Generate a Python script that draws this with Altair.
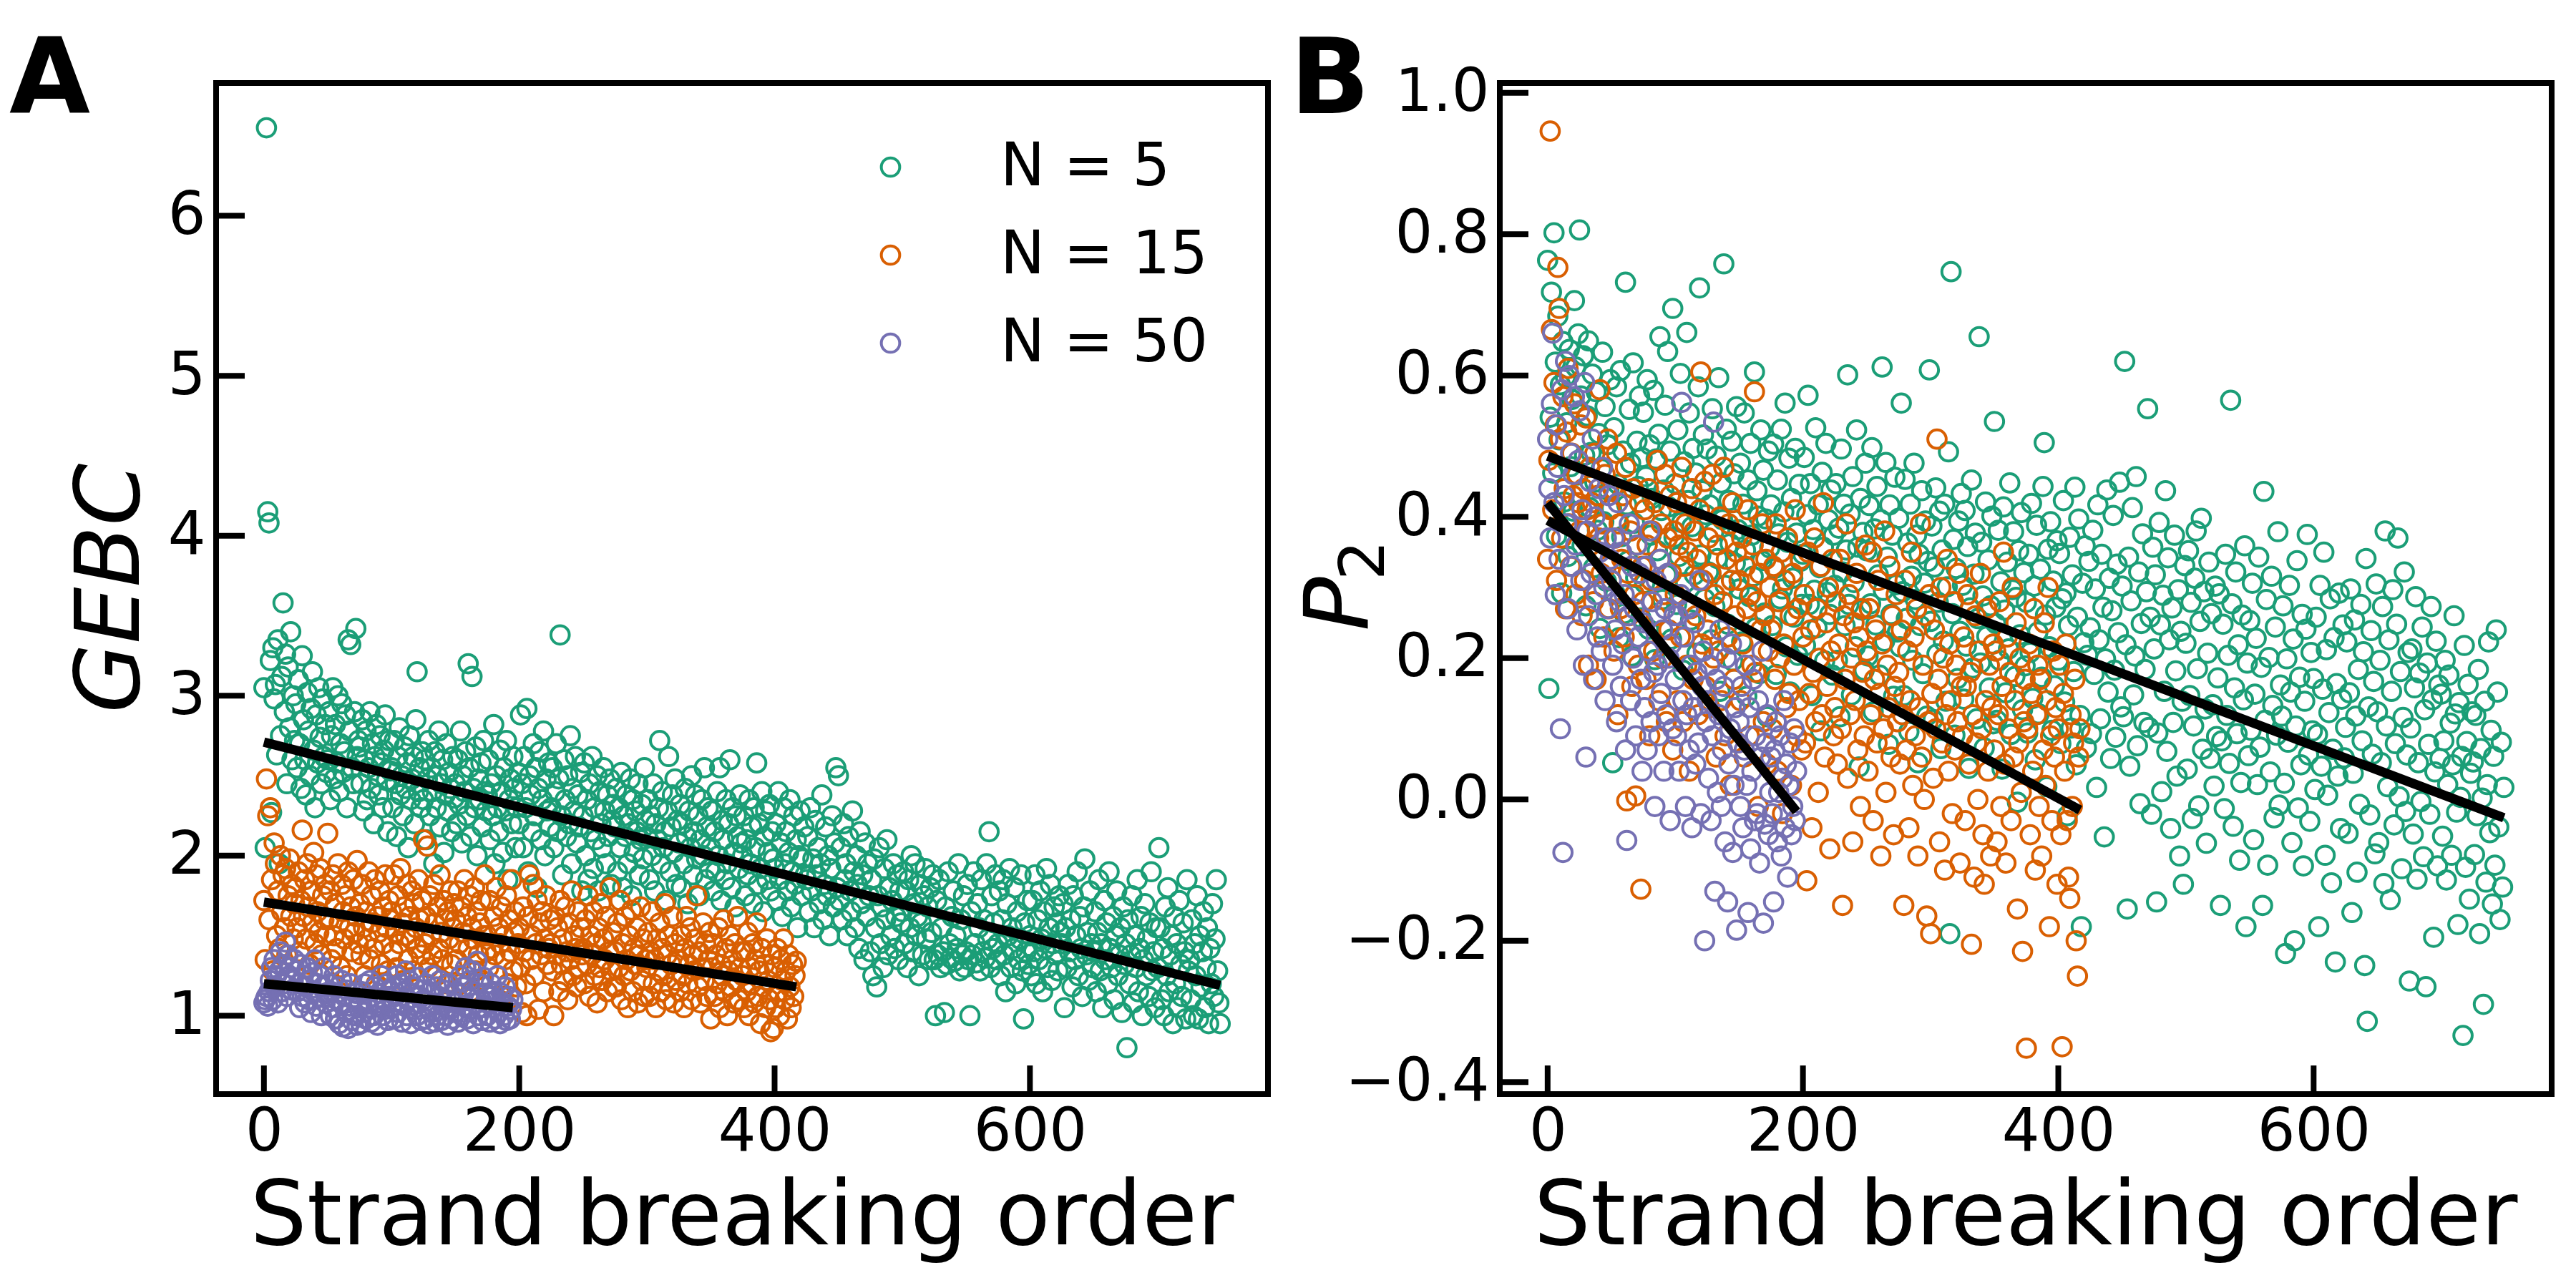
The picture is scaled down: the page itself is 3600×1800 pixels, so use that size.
import altair as alt
import pandas as pd

SERIES = ["N = 5", "N = 15", "N = 50"]
COLORS = ["#1b9e77", "#d95f02", "#7570b3"]

# ---------------- Panel A : GEBC vs strand breaking order ----------------
gebc_n5 = [
    3.05, 2.05, 6.55, 4.15, 4.08, 3.22, 2.27, 3.3, 2.98, 3.07, 2.63, 3.35, 1.95, 2.75, 3.12, 3.58, 2.9, 3.26, 2.45, 3.18, 2.8, 3.4, 2.6, 3.0, 2.72,
    2.95, 2.55, 3.1, 2.7, 2.42, 3.25, 2.85, 2.6, 2.38, 3.02, 2.78, 2.5, 2.92, 3.15, 2.66, 2.3, 2.88, 2.58, 3.05, 2.74, 2.45, 2.98, 2.62, 2.82, 2.52,
    2.6, 2.9, 2.35, 2.75, 3.05, 2.48, 2.82, 2.58, 3.0, 2.4, 2.7, 2.95, 2.52, 2.65, 2.88, 2.3, 3.35, 2.78, 3.32, 2.55, 2.45, 2.9, 3.42, 2.62, 2.72,
    2.68, 2.45, 2.85, 2.28, 2.6, 2.78, 2.35, 2.55, 2.9, 2.42, 2.7, 2.2, 2.62, 2.82, 2.5, 2.38, 2.75, 2.58, 2.3, 2.66, 2.88, 2.47, 2.15, 2.72, 2.53,
    2.55, 2.3, 2.72, 2.45, 2.12, 2.62, 2.8, 2.38, 2.5, 2.25, 2.68, 2.42, 2.58, 2.05, 2.75, 2.35, 2.48, 2.62, 2.2, 2.85, 3.15, 2.4, 2.55, 2.3, 2.65,
    2.35, 2.6, 2.1, 2.48, 2.72, 2.25, 2.55, 2.4, 1.95, 2.65, 2.3, 2.5, 2.78, 2.18, 2.45, 2.6, 2.02, 2.38, 2.7, 2.28, 2.52, 2.42, 2.15, 2.62, 2.36,
    2.45, 2.2, 2.6, 2.32, 2.78, 2.08, 2.5, 2.4, 2.65, 2.25, 3.2, 2.55, 2.12, 3.12, 2.42, 2.3, 2.68, 2.0, 2.48, 2.35, 2.58, 2.18, 2.72, 2.4, 2.28,
    2.38, 2.6, 2.1, 2.45, 2.25, 2.82, 1.95, 2.5, 2.3, 2.15, 2.66, 2.4, 2.02, 2.55, 2.28, 2.72, 1.85, 2.35, 2.48, 2.2, 2.62, 2.42, 2.05, 2.3, 2.52,
    2.2, 2.88, 2.45, 2.05, 2.62, 2.3, 2.92, 1.9, 2.5, 2.38, 2.15, 2.7, 2.25, 2.55, 1.8, 2.42, 2.65, 2.1, 2.35, 2.78, 2.0, 2.48, 2.28, 2.58, 2.18,
    2.3, 2.55, 2.05, 2.4, 2.7, 2.15, 2.48, 3.38, 2.25, 1.88, 2.6, 2.35, 2.12, 2.5, 2.2, 2.75, 1.95, 2.42, 2.28, 2.62, 2.08, 2.38, 2.18, 2.52, 1.78,
    2.25, 2.58, 2.0, 2.35, 1.85, 2.45, 2.15, 2.62, 1.92, 2.3, 2.1, 2.5, 1.78, 2.4, 2.2, 2.05, 2.55, 2.28, 1.95, 2.38, 2.12, 2.48, 1.82, 2.22, 2.32,
    2.18, 2.42, 1.9, 2.3, 2.05, 2.52, 1.8, 2.25, 2.12, 2.38, 1.95, 2.2, 2.48, 1.75, 2.35, 2.02, 2.28, 2.15, 2.45, 1.88, 2.1, 2.32, 1.98, 2.55, 2.22,
    2.12, 2.35, 1.85, 2.25, 2.0, 2.45, 1.78, 2.2, 2.1, 2.3, 2.72, 1.95, 2.4, 2.05, 2.15, 1.72, 2.28, 2.62, 1.9, 2.18, 2.38, 2.02, 2.48, 1.82, 2.22,
    2.08, 2.32, 1.8, 2.2, 1.95, 2.42, 2.12, 1.7, 2.28, 2.05, 2.5, 1.88, 2.15, 2.38, 1.98, 2.25, 1.75, 2.1, 2.35, 2.0, 2.55, 1.85, 2.18, 2.3, 1.92,
    2.05, 2.28, 1.78, 2.15, 1.9, 2.4, 2.0, 2.55, 1.72, 2.22, 2.1, 1.85, 2.35, 1.95, 2.2, 2.6, 1.8, 2.3, 2.02, 1.68, 2.25, 2.12, 1.92, 2.38, 2.08,
    2.0, 2.25, 1.75, 2.1, 1.88, 2.35, 1.95, 2.18, 1.7, 2.3, 2.05, 2.58, 1.82, 2.2, 1.92, 2.4, 1.65, 2.12, 2.28, 1.85, 2.02, 2.32, 1.78, 2.15, 1.98,
    1.92, 2.2, 1.72, 2.4, 1.85, 2.08, 1.62, 2.3, 1.95, 2.15, 1.78, 2.02, 2.35, 1.68, 1.9, 2.25, 1.82, 2.1, 1.55, 2.0, 2.28, 1.75, 1.98, 2.18, 1.88,
    1.85, 2.12, 1.65, 2.3, 1.78, 1.98, 1.55, 2.22, 1.88, 2.05, 1.7, 1.95, 2.38, 1.6, 1.82, 2.18, 1.75, 2.0, 1.5, 1.92, 2.25, 1.68, 2.08, 2.55, 1.8,
    2.5, 1.72, 2.05, 1.6, 2.2, 1.85, 1.95, 1.5, 2.12, 1.78, 1.65, 2.28, 1.9, 1.55, 2.0, 1.82, 1.42, 2.15, 1.7, 1.88, 1.35, 2.08, 1.62, 1.95, 1.75,
    1.4, 1.85, 1.25, 1.98, 1.55, 1.18, 1.75, 2.05, 1.45, 1.68, 1.3, 1.92, 1.6, 2.1, 1.38, 1.8, 1.5, 1.72, 1.95, 1.42, 1.62, 1.88, 1.35, 1.78, 1.58,
    1.65, 1.9, 1.45, 1.78, 1.3, 1.85, 1.55, 2.0, 1.4, 1.7, 1.95, 1.5, 1.62, 1.25, 1.82, 1.58, 1.38, 1.75, 1.92, 1.48, 1.68, 1.35, 1.8, 1.52, 1.88,
    1.35, 1.0, 1.72, 1.38, 1.85, 1.3, 1.55, 1.4, 1.02, 1.68, 1.32, 1.9, 1.45, 1.36, 1.62, 1.78, 1.34, 1.5, 1.42, 1.95, 1.28, 1.6, 1.38, 1.75, 1.3,
    1.4, 1.82, 1.35, 1.0, 1.65, 1.38, 1.9, 1.45, 1.33, 1.7, 1.55, 1.28, 1.85, 1.4, 1.6, 1.36, 1.95, 1.48, 2.15, 1.3, 1.75, 1.42, 1.58, 1.88, 1.35,
    1.45, 1.78, 1.25, 1.6, 1.85, 1.38, 1.15, 1.7, 1.5, 1.92, 1.3, 1.55, 1.42, 1.8, 1.2, 1.65, 1.35, 1.48, 1.88, 1.28, 0.98, 1.58, 1.4, 1.72, 1.32,
    1.5, 1.25, 1.72, 1.4, 1.88, 1.2, 1.6, 1.35, 1.78, 1.48, 1.15, 1.65, 1.42, 1.92, 1.3, 1.55, 1.82, 1.22, 1.45, 1.68, 1.38, 1.58, 1.28, 1.75, 1.52,
    1.45, 1.7, 1.05, 1.55, 1.3, 1.82, 1.4, 1.6, 1.18, 1.75, 1.35, 1.5, 1.9, 1.25, 1.62, 1.42, 1.12, 1.68, 1.98, 1.38, 1.52, 1.22, 1.78, 1.45, 1.3,
    1.4, 1.65, 1.15, 1.52, 1.85, 1.28, 1.45, 1.05, 1.72, 1.35, 1.58, 1.2, 1.9, 1.42, 1.3, 1.62, 1.1, 1.5, 1.78, 1.25, 1.38, 1.55, 1.02, 1.68, 1.32,
    1.45, 0.8, 1.6, 1.2, 1.38, 1.75, 1.08, 1.5, 1.3, 1.85, 1.15, 1.42, 1.62, 1.0, 1.35, 1.7, 1.25, 1.48, 1.12, 1.58, 1.9, 1.28, 1.4, 1.05, 1.55,
    1.3, 2.05, 1.55, 1.1, 1.42, 1.0, 1.68, 1.25, 1.8, 1.15, 1.38, 1.5, 0.95, 1.62, 1.2, 1.45, 1.05, 1.72, 1.32, 1.12, 1.58, 1.4, 0.98, 1.85, 1.28,
    1.35, 1.1, 1.6, 1.0, 1.45, 1.25, 1.75, 0.98, 1.5, 1.18, 1.4, 1.65, 1.05, 1.3, 1.55, 0.95, 1.42, 1.2, 1.7, 1.12, 1.48, 1.85, 1.28, 1.08, 0.95,
]
gebc_n15 = [
    1.72, 1.35, 2.48, 2.25, 1.6, 2.3, 1.85, 1.28, 2.08, 1.95, 1.5, 1.78, 1.42, 2.0, 1.65, 1.88, 1.55, 1.92, 1.38, 1.75, 1.98, 1.62, 1.82, 1.48, 1.7,
    1.8, 1.55, 1.9, 1.4, 1.72, 2.16, 1.62, 1.85, 1.48, 1.95, 1.68, 1.32, 1.78, 1.58, 2.02, 1.45, 1.88, 1.65, 1.52, 1.92, 1.38, 1.75, 1.6, 1.82, 1.5,
    2.14, 1.6, 1.78, 1.35, 1.88, 1.5, 1.7, 1.42, 1.95, 1.58, 1.3, 1.82, 1.65, 1.48, 1.75, 1.25, 1.9, 1.55, 1.68, 1.4, 1.85, 1.52, 1.62, 1.97, 1.45,
    1.7, 1.38, 1.82, 1.55, 1.25, 1.65, 1.48, 1.9, 1.35, 1.75, 1.58, 1.42, 1.85, 1.2, 1.62, 1.52, 1.78, 1.32, 1.68, 1.45, 1.88, 1.55, 1.28, 1.72, 1.6,
    1.65, 1.4, 1.88, 1.52, 1.3, 1.75, 1.45, 1.92, 1.58, 1.22, 1.68, 1.5, 1.82, 1.35, 1.62, 1.48, 1.78, 1.28, 1.7, 1.55, 1.42, 1.85, 1.6, 1.38, 1.72,
    2.1, 1.45, 1.62, 2.06, 1.3, 1.75, 1.5, 1.38, 1.82, 1.58, 1.25, 1.68, 1.42, 1.88, 1.52, 1.35, 1.72, 1.6, 1.2, 1.65, 1.48, 1.78, 1.32, 1.55, 1.7,
    1.6, 1.35, 1.78, 1.45, 1.2, 1.68, 1.52, 1.85, 1.3, 1.62, 1.42, 1.75, 1.15, 1.55, 1.48, 1.8, 1.28, 1.65, 1.38, 1.58, 1.72, 1.22, 1.5, 1.88, 1.4,
    1.5, 1.3, 1.72, 1.42, 1.15, 1.62, 1.38, 1.8, 1.25, 1.55, 1.45, 1.68, 1.12, 1.5, 1.35, 1.75, 1.2, 1.6, 1.4, 1.85, 1.28, 1.52, 1.65, 1.18, 1.45,
    1.55, 1.3, 1.02, 1.68, 1.4, 1.2, 1.0, 1.62, 1.88, 1.35, 1.5, 1.82, 1.25, 1.45, 1.72, 1.04, 1.58, 1.38, 1.65, 1.15, 1.48, 1.75, 1.32, 1.42, 1.6,
    1.45, 1.28, 1.0, 1.62, 1.38, 1.55, 1.15, 1.72, 1.32, 1.48, 1.22, 1.68, 1.4, 1.1, 1.58, 1.35, 1.78, 1.25, 1.5, 1.42, 1.18, 1.65, 1.3, 1.55, 1.38,
    1.42, 1.2, 1.6, 1.32, 1.75, 1.12, 1.5, 1.38, 1.65, 1.25, 1.45, 1.08, 1.55, 1.3, 1.7, 1.22, 1.48, 1.35, 1.62, 1.15, 1.4, 1.8, 1.28, 1.52, 1.18,
    1.4, 1.18, 1.58, 1.3, 1.72, 1.1, 1.45, 1.25, 1.62, 1.35, 1.05, 1.5, 1.28, 1.66, 1.15, 1.42, 1.32, 1.55, 1.08, 1.38, 1.68, 1.22, 1.48, 1.12, 1.35,
    1.3, 1.52, 1.12, 1.4, 1.65, 1.2, 1.35, 1.05, 1.48, 1.28, 1.58, 1.15, 1.42, 1.25, 1.7, 1.1, 1.38, 1.5, 1.18, 1.32, 1.62, 1.08, 1.45, 1.22, 1.35,
    1.35, 1.15, 1.5, 1.25, 1.05, 1.42, 1.62, 1.2, 1.32, 1.55, 1.1, 1.38, 1.28, 1.48, 1.75, 1.18, 1.4, 1.08, 1.3, 1.58, 1.22, 1.45, 1.12, 1.35, 1.52,
    0.98, 1.3, 1.45, 1.12, 1.38, 1.2, 1.55, 1.05, 1.32, 1.25, 1.6, 1.15, 1.42, 1.0, 1.28, 1.5, 1.18, 1.35, 1.08, 1.45, 1.22, 1.62, 1.1, 1.3, 1.4,
    1.25, 1.05, 1.4, 1.15, 1.52, 1.0, 1.3, 1.2, 1.45, 1.08, 1.35, 1.58, 1.12, 1.28, 0.95, 1.42, 1.18, 1.32, 1.05, 1.48, 1.22, 1.1, 0.9, 1.38, 0.92,
    1.3, 1.05, 1.42, 1.15, 1.0, 1.35, 1.22, 1.48, 1.1, 1.28, 0.98, 1.38, 1.18, 1.05, 1.32, 1.12, 1.25, 1.34,
]
gebc_n50 = [
    1.08, 1.1, 1.12, 1.06, 1.15, 1.22, 1.3, 1.1, 1.35, 1.18, 1.25, 1.08, 1.28, 1.4, 1.15, 1.32, 1.2, 1.46, 1.12, 1.38, 1.25, 1.3, 1.16, 1.22, 1.35,
    1.28, 1.15, 1.2, 1.05, 1.32, 1.12, 1.25, 1.08, 1.18, 1.3, 1.1, 1.22, 1.02, 1.27, 1.15, 1.35, 1.06, 1.2, 1.12, 1.25, 1.0, 1.18, 1.3, 1.08, 1.14,
    1.12, 1.2, 1.0, 1.15, 1.05, 1.25, 0.98, 1.1, 1.18, 0.95, 1.08, 1.22, 0.93, 1.12, 1.02, 1.16, 0.92, 1.06, 1.2, 0.97, 1.1, 1.0, 1.14, 0.94, 1.05,
    1.08, 0.95, 1.15, 1.02, 1.2, 0.98, 1.1, 1.05, 1.22, 0.96, 1.12, 1.0, 1.18, 1.06, 0.94, 1.14, 1.08, 1.25, 1.0, 1.1, 1.04, 1.2, 0.97, 1.12, 1.16,
    1.05, 1.18, 0.98, 1.12, 1.25, 1.02, 1.08, 1.2, 0.96, 1.15, 1.06, 1.28, 1.0, 1.1, 1.22, 0.95, 1.14, 1.04, 1.18, 1.08, 1.0, 1.24, 1.12, 0.97, 1.16,
    1.1, 0.98, 1.2, 1.05, 0.95, 1.15, 1.02, 1.25, 1.08, 0.96, 1.18, 1.0, 1.12, 1.22, 0.97, 1.06, 1.16, 1.0, 1.1, 0.94, 1.2, 1.04, 1.13, 0.98, 1.08,
    1.02, 1.15, 0.96, 1.1, 1.25, 1.0, 1.18, 1.06, 1.3, 0.98, 1.12, 1.22, 1.04, 1.28, 0.95, 1.15, 1.08, 1.34, 1.0, 1.2, 1.1, 0.97, 1.24, 1.05, 1.14,
    1.0, 1.12, 0.96, 1.2, 1.05, 1.15, 0.98, 1.1, 1.25, 1.02, 0.95, 1.14, 1.08, 1.0, 1.18, 0.97, 1.06, 1.12, 0.98, 1.04, 1.1,
]
fit_a_order = {"N = 5": [0, 749], "N = 15": [0, 417], "N = 50": [0, 195]}
fit_a_value = {"N = 5": [2.71, 1.19], "N = 15": [1.71, 1.18], "N = 50": [1.20, 1.05]}

# ---------------- Panel B : P2 vs strand breaking order ----------------
p2_n5 = [
    0.763, 0.157, 0.541, 0.718, 0.462, 0.802, 0.619, 0.373, 0.684, 0.509, 0.587, 0.292, 0.648, 0.421, 0.598, 0.533, 0.344, 0.637, 0.471, 0.566, 0.408, 0.706, 0.612, 0.459, 0.659,
    0.806, 0.571, 0.359, 0.628, 0.487, 0.274, 0.543, 0.649, 0.413, 0.491, 0.602, 0.328, 0.449, 0.577, 0.381, 0.518, 0.242, 0.468, 0.633, 0.393, 0.556, 0.309, 0.502, 0.437, 0.594,
    0.412, 0.052, 0.526, 0.291, 0.584, 0.446, 0.229, 0.607, 0.372, 0.493, 0.263, 0.732, 0.417, 0.338, 0.552, 0.476, 0.203, 0.618, 0.391, 0.314, 0.507, 0.443, 0.571, 0.257, 0.484,
    0.548, 0.306, 0.457, 0.594, 0.241, 0.502, 0.374, 0.426, 0.579, 0.198, 0.482, 0.352, 0.517, 0.655, 0.409, 0.283, 0.438, 0.558, 0.318, 0.634, 0.414, 0.493, 0.227, 0.695, 0.371,
    0.447, 0.276, 0.523, 0.344, 0.603, 0.392, 0.183, 0.478, 0.307, 0.661, 0.423, 0.547, 0.254, 0.386, 0.497, 0.318, 0.462, 0.207, 0.584, 0.724, 0.346, 0.437, 0.516, 0.284, 0.403,
    0.496, 0.322, 0.417, 0.226, 0.553, 0.378, 0.273, 0.486, 0.341, 0.597, 0.153, 0.448, 0.396, 0.758, 0.303, 0.524, 0.248, 0.423, 0.362, 0.507, 0.196, 0.461, 0.334, 0.556, 0.382,
    0.298, 0.476, 0.223, 0.418, 0.547, 0.353, 0.146, 0.452, 0.287, 0.504, 0.374, 0.316, 0.605, 0.243, 0.437, 0.401, 0.178, 0.523, 0.338, 0.466, 0.264, 0.397, 0.117, 0.493, 0.356,
    0.417, 0.246, 0.503, 0.327, 0.177, 0.452, 0.376, 0.284, 0.524, 0.298, 0.407, 0.561, 0.216, 0.364, 0.483, 0.152, 0.426, 0.313, 0.258, 0.497, 0.377, 0.204, 0.446, 0.337, 0.276,
    0.347, 0.484, 0.218, 0.403, 0.572, 0.276, 0.447, 0.147, 0.382, 0.296, 0.526, 0.243, 0.417, 0.328, 0.097, 0.463, 0.357, 0.196, 0.504, 0.293, 0.396, 0.262, 0.438, 0.176, 0.374,
    0.303, 0.447, 0.197, 0.384, 0.117, 0.496, 0.322, 0.418, 0.246, 0.353, 0.601, 0.276, 0.404, 0.148, 0.457, 0.307, 0.216, 0.523, 0.357, 0.046, 0.426, 0.268, 0.378, 0.183, 0.476,
    0.352, 0.203, 0.416, 0.277, 0.498, 0.124, 0.383, 0.247, 0.443, 0.318, 0.176, 0.396, 0.612, 0.296, 0.224, 0.477, 0.343, 0.078, 0.417, 0.262, 0.374, 0.146, 0.456, 0.304, 0.237,
    0.398, 0.216, 0.561, 0.294, 0.147, 0.453, 0.256, 0.363, 0.096, 0.418, 0.316, 0.197, 0.476, 0.283, 0.374, 0.052, 0.347, 0.246, 0.437, 0.178, 0.306, 0.394, 0.118, 0.337, 0.608,
    0.252, 0.387, 0.113, 0.329, 0.441, 0.206, 0.279, 0.408, 0.072, 0.353, 0.224, 0.418, 0.139, 0.301, 0.492, -0.19, 0.747, 0.263, 0.368, 0.091, 0.327, 0.171, 0.394, 0.238, 0.433,
    0.303, 0.142, 0.409, 0.217, 0.358, 0.044, 0.271, 0.452, 0.186, 0.319, 0.377, 0.114, 0.256, 0.655, 0.193, 0.364, 0.288, 0.073, 0.421, 0.231, 0.339, 0.158, 0.274, 0.401, 0.107,
    0.535, 0.249, 0.112, 0.381, 0.197, 0.308, 0.043, 0.414, 0.268, 0.151, 0.336, 0.213, 0.448, 0.092, 0.297, 0.379, 0.174, 0.286, -0.004, 0.352, 0.233, 0.406, 0.127, 0.321, 0.189,
    0.279, 0.094, 0.347, 0.208, 0.419, 0.143, 0.302, 0.056, 0.388, 0.237, 0.121, 0.326, 0.173, 0.443, 0.505, 0.261, 0.018, 0.354, 0.216, 0.393, 0.098, 0.309, 0.161, 0.272, 0.366,
    0.197, 0.348, 0.079, 0.284, 0.423, 0.138, 0.292, -0.023, 0.246, 0.371, 0.101, 0.318, 0.181, 0.442, 0.049, 0.258, 0.397, 0.119, -0.18, 0.306, 0.222, 0.359, 0.073, 0.204, 0.337,
    0.243, 0.093, 0.381, 0.177, 0.298, 0.017, 0.417, 0.226, 0.114, 0.347, 0.272, -0.053, 0.199, 0.438, 0.152, 0.313, 0.058, 0.267, 0.402, 0.183, 0.088, 0.333, 0.236, 0.449, 0.131,
    0.302, 0.117, 0.62, 0.219, -0.155, 0.343, 0.047, 0.281, 0.413, 0.148, 0.203, 0.457, 0.076, 0.322, -0.006, 0.249, 0.376, 0.109, 0.184, 0.294, 0.553, 0.102, 0.258, -0.021, 0.357,
    0.213, 0.318, -0.145, 0.094, 0.392, 0.247, 0.011, 0.289, 0.153, 0.437, 0.068, 0.342, 0.226, -0.041, 0.271, 0.109, 0.374, 0.182, 0.033, 0.297, -0.08, 0.238, 0.139, -0.12, 0.331,
    0.221, 0.043, 0.352, 0.147, 0.279, -0.027, 0.104, 0.313, 0.38, 0.185, -0.009, 0.252, 0.398, 0.071, 0.294, 0.128, -0.062, 0.207, 0.336, 0.058, 0.263, 0.134, 0.019, 0.302, 0.089,
    0.172, 0.291, -0.15, 0.083, 0.248, -0.013, 0.347, 0.119, 0.204, 0.051, 0.565, 0.277, -0.038, 0.158, 0.322, 0.093, 0.219, -0.086, 0.024, 0.261, 0.141, 0.359, -0.18, 0.193, 0.062,
    0.253, 0.098, 0.306, -0.057, 0.149, 0.228, 0.021, 0.343, 0.074, 0.187, -0.15, 0.436, 0.112, 0.283, -0.093, 0.201, 0.039, 0.316, 0.133, -0.026, 0.244, 0.091, 0.379, -0.008, 0.162,
    0.118, 0.274, 0.023, -0.218, 0.199, 0.081, 0.303, 0.152, -0.061, 0.227, -0.2, 0.104, 0.338, -0.012, 0.173, 0.049, 0.262, -0.094, 0.139, 0.241, 0.375, 0.063, -0.031, 0.208, 0.097,
    0.171, 0.014, 0.258, 0.092, -0.18, 0.303, 0.047, 0.156, 0.35, -0.079, 0.212, 0.006, 0.123, 0.284, -0.118, 0.071, 0.229, -0.23, 0.164, 0.033, 0.292, -0.041, 0.142, 0.247, 0.059,
    0.102, 0.223, -0.048, 0.151, 0.298, -0.16, 0.037, 0.254, 0.118, -0.103, 0.184, -0.007, 0.276, 0.083, 0.209, -0.235, 0.341, -0.314, 0.131, -0.022, 0.239, 0.064, 0.167, -0.077, 0.305,
    0.124, -0.061, 0.197, 0.052, 0.273, -0.119, 0.38, 0.104, 0.018, 0.226, -0.142, 0.153, 0.297, -0.036, 0.079, 0.248, 0.37, 0.004, 0.181, -0.098, 0.116, 0.322, -0.017, 0.063, 0.208,
    -0.257, 0.101, 0.213, -0.049, 0.158, 0.287, -0.113, 0.052, 0.179, -0.003, 0.244, -0.081, 0.127, -0.265, 0.193, 0.078, -0.021, 0.273, 0.141, -0.195, 0.039, 0.224, -0.094, 0.162, 0.058,
    0.149, -0.052, 0.083, 0.197, -0.114, 0.021, 0.176, 0.108, -0.079, 0.049, 0.26, 0.121, -0.018, -0.177, 0.137, 0.003, 0.061, -0.334, 0.218, -0.096, 0.082, 0.163, -0.141, 0.037, 0.124,
    0.053, -0.078, 0.119, -0.023, 0.184, -0.19, 0.072, 0.002, -0.29, 0.139, -0.117, 0.021, 0.223, -0.047, 0.098, -0.148, 0.061, -0.093, 0.24, 0.152, -0.039, -0.17, 0.081, -0.124, 0.017,
]
p2_n15 = [
    0.34, 0.48, 0.946, 0.665, 0.41, 0.59, 0.53, 0.31, 0.753, 0.695, 0.51, 0.37, 0.57, 0.44, 0.27, 0.52, 0.61, 0.39, 0.33, 0.49, 0.43, 0.56, 0.29, 0.46, 0.42,
    0.38, 0.53, 0.26, 0.44, 0.31, 0.54, 0.41, 0.19, 0.47, 0.36, 0.42, 0.28, 0.49, 0.17, 0.43, 0.37, 0.58, 0.32, 0.39, 0.23, 0.46, 0.33, 0.51, 0.27, 0.41,
    0.31, 0.44, 0.21, 0.37, 0.49, 0.12, 0.39, 0.27, 0.34, 0.43, 0.23, 0.47, -0.002, 0.32, 0.26, 0.38, 0.16, 0.44, 0.29, 0.005, 0.36, 0.19, 0.42, -0.127, 0.33,
    0.28, 0.41, 0.17, 0.36, 0.44, 0.09, 0.31, 0.38, 0.21, 0.42, 0.26, 0.48, 0.14, 0.34, 0.39, 0.2, 0.29, 0.46, 0.11, 0.37, 0.24, 0.43, 0.32, 0.07, 0.38,
    0.29, 0.42, 0.14, 0.36, 0.23, 0.47, 0.11, 0.33, 0.39, 0.19, 0.35, 0.04, 0.27, 0.44, 0.17, 0.38, 0.26, 0.34, 0.12, 0.41, 0.605, 0.22, 0.31, 0.45, 0.16,
    0.24, 0.37, 0.13, 0.32, 0.46, 0.2, 0.29, 0.06, 0.36, 0.21, 0.4, 0.14, 0.28, 0.47, 0.09, 0.34, 0.23, 0.39, 0.02, 0.31, 0.42, 0.17, 0.26, 0.35, 0.08,
    0.31, 0.14, 0.37, 0.22, 0.06, 0.33, 0.27, 0.41, 0.09, 0.29, 0.19, 0.36, 0.577, 0.18, 0.28, -0.01, 0.32, 0.24, 0.39, 0.11, 0.26, 0.34, 0.05, 0.21, 0.3,
    0.24, 0.1, 0.33, 0.17, 0.39, 0.04, 0.28, 0.2, 0.35, -0.02, 0.22, 0.31, 0.13, 0.37, 0.15, 0.26, 0.02, 0.32, 0.19, 0.41, 0.09, 0.27, 0.14, 0.34, 0.07,
    0.23, 0.29, 0.08, -0.115, 0.35, 0.15, 0.24, -0.04, 0.18, 0.37, 0.11, 0.27, 0.01, 0.2, 0.33, 0.12, 0.42, 0.06, 0.25, 0.16, 0.3, -0.07, 0.21, 0.34, 0.09,
    0.13, 0.28, 0.05, 0.22, 0.34, 0.1, -0.15, 0.26, 0.17, 0.39, 0.03, 0.29, 0.12, 0.2, -0.06, 0.25, 0.14, 0.32, 0.07, 0.23, -0.01, 0.27, 0.18, 0.09, 0.36,
    0.21, 0.04, 0.27, 0.12, 0.35, -0.03, 0.17, 0.24, 0.08, 0.31, 0.15, -0.08, 0.22, 0.1, 0.38, 0.01, 0.19, 0.13, 0.33, 0.06, 0.26, -0.05, 0.16, 0.29, 0.11,
    0.18, 0.05, 0.24, 0.12, -0.15, 0.31, 0.07, 0.21, -0.04, 0.14, 0.35, 0.02, 0.23, 0.09, 0.27, -0.08, 0.13, 0.39, 0.06, 0.19, 0.0, 0.26, -0.165, 0.11, 0.29,
    -0.19, 0.15, 0.03, 0.24, 0.1, 0.51, 0.17, -0.06, 0.3, 0.08, 0.2, -0.1, 0.12, 0.34, 0.04, 0.22, 0.14, -0.02, 0.28, 0.07, 0.19, 0.11, 0.32, -0.09, 0.16,
    0.09, 0.23, -0.03, 0.16, 0.29, 0.05, 0.18, -0.205, 0.12, -0.11, 0.26, 0.08, 0.0, 0.21, 0.32, 0.1, -0.05, -0.12, 0.14, 0.27, 0.04, 0.19, -0.08, 0.13, 0.22,
    0.07, 0.21, -0.06, 0.12, 0.28, -0.01, 0.16, 0.35, 0.05, -0.09, 0.23, 0.1, 0.18, -0.03, 0.3, 0.06, 0.14, 0.25, -0.155, 0.08, 0.2, 0.01, -0.215, 0.11, 0.17,
    -0.352, 0.1, 0.22, -0.05, 0.15, 0.04, 0.27, -0.1, 0.12, 0.19, -0.01, 0.17, -0.08, 0.07, 0.25, 0.02, 0.14, 0.3, -0.18, 0.09, -0.03, 0.21, 0.06, 0.13, -0.12,
    0.1, 0.19, -0.05, -0.35, 0.15, 0.04, 0.22, -0.03, -0.11, -0.14, 0.12, -0.01, 0.08, 0.17, -0.2, -0.25, 0.06, 0.1,
]
p2_n50 = [
    0.51, 0.44, 0.37, 0.56, 0.66, 0.42, 0.29, 0.53, 0.47, 0.34, 0.1, 0.58, -0.075, 0.43, 0.62, 0.39, 0.27, 0.6, 0.49, 0.33, 0.46, 0.57, 0.36, 0.24, 0.48,
    0.55, 0.31, 0.41, 0.19, 0.59, 0.06, 0.38, 0.26, 0.45, 0.32, 0.51, 0.17, 0.4, 0.29, 0.23, 0.44, 0.35, 0.21, 0.47, 0.3, 0.14, 0.37, 0.27, 0.43, 0.34,
    0.31, 0.19, 0.37, 0.24, 0.11, 0.42, 0.28, 0.16, 0.35, 0.22, 0.29, 0.07, -0.058, 0.26, 0.39, 0.14, 0.33, 0.2, 0.27, 0.09, 0.36, 0.23, 0.32, 0.17, 0.04,
    0.25, 0.13, 0.33, 0.07, 0.21, 0.38, 0.11, 0.28, 0.18, -0.01, 0.31, 0.19, 0.09, 0.34, 0.15, 0.24, 0.04, 0.27, 0.12, 0.32, 0.2, -0.03, 0.22, 0.1, 0.26,
    0.17, 0.09, 0.26, 0.04, 0.29, 0.562, 0.14, 0.23, -0.01, 0.12, 0.27, 0.07, 0.19, -0.04, 0.13, 0.25, 0.05, 0.18, 0.08, 0.31, -0.02, 0.16, 0.21, -0.2, 0.11,
    0.14, 0.03, 0.19, -0.03, 0.09, 0.534, -0.13, 0.17, 0.01, 0.12, 0.24, -0.01, 0.07, 0.16, -0.06, 0.2, -0.145, 0.05, 0.1, 0.22, -0.075, 0.02, 0.13, -0.185, 0.08,
    0.11, -0.01, 0.16, -0.04, 0.07, 0.19, 0.02, -0.16, 0.13, -0.07, 0.04, 0.17, -0.03, 0.09, -0.02, 0.14, -0.09, 0.06, 0.21, -0.175, -0.035, 0.08, 0.12, -0.05, 0.01,
    0.06, -0.02, -0.145, 0.07, 0.11, -0.06, 0.01, 0.09, -0.08, 0.03, 0.14, -0.04, 0.05, -0.11, 0.02, 0.08, -0.05, -0.01, 0.1, -0.03, 0.04,
]
fit_b_order = {"N = 5": [0, 749], "N = 15": [0, 417], "N = 50": [0, 195]}
fit_b_value = {"N = 5": [0.486, -0.026], "N = 15": [0.395, -0.015], "N = 50": [0.42, -0.017]}

x_ticks = [0, 200, 400, 600]
a_ticks = [1, 2, 3, 4, 5, 6]
b_ticks = [-0.4, -0.2, 0.0, 0.2, 0.4, 0.6, 0.8, 1.0]

# ---------------- layout constants ----------------
W, H = 1470, 1413
FONT = "DejaVu Sans"
X_DOMAIN = [-37.45, 786.45]
A_DOMAIN = [0.51, 6.83]
B_DOMAIN = [-0.417, 1.014]
TICK_LEN = 40


def points_frame(lists):
    rows = []
    for name, vals in zip(SERIES, lists):
        for i, v in enumerate(vals):
            rows.append({"order": i, "value": v, "series": name})
    return pd.DataFrame(rows)


def fit_frame(orders, values):
    rows = []
    for name in SERIES:
        for o, v in zip(orders[name], values[name]):
            rows.append({"order": o, "value": v, "series": name})
    return pd.DataFrame(rows)


def text(txt, x, y, size, style="normal", weight="normal", angle=0, align="center"):
    return alt.Chart(pd.DataFrame({"t": [txt]})).mark_text(
        font=FONT, fontSize=size, fontStyle=style, fontWeight=weight,
        angle=angle, align=align, baseline="alphabetic", color="black"
    ).encode(text="t:N", x=alt.value(x), y=alt.value(y))


def axis(values, fmt, pad):
    return alt.Axis(values=values, title=None, ticks=False, tickSize=0, domain=False,
                    grid=False, labelFont=FONT, labelFontSize=83, labelColor="black",
                    labelPadding=pad, labelFlush=False, labelOverlap=False,
                    labelLimit=0, format=fmt)


def panel(lists, fit_o, fit_v, y_domain, y_ticks, y_fmt, legend):
    xs = alt.Scale(domain=X_DOMAIN, nice=False, zero=False)
    ys = alt.Scale(domain=y_domain, nice=False, zero=False)
    color = alt.Color("series:N", scale=alt.Scale(domain=SERIES, range=COLORS),
                      sort=SERIES, legend=legend)
    pts = alt.Chart(points_frame(lists)).mark_point(
        shape="circle", filled=False, size=660, strokeWidth=4, opacity=1
    ).encode(
        x=alt.X("order:Q", scale=xs, axis=axis(x_ticks, "d", 12)),
        y=alt.Y("value:Q", scale=ys, axis=axis(y_ticks, y_fmt, 15)),
        color=color,
    )
    fits = alt.Chart(fit_frame(fit_o, fit_v)).mark_line(
        color="black", strokeWidth=13, strokeCap="butt"
    ).encode(
        x=alt.X("order:Q", scale=xs),
        y=alt.Y("value:Q", scale=ys),
        detail="series:N",
    )
    xt = alt.Chart(pd.DataFrame({"t": x_ticks})).mark_rule(color="black", strokeWidth=8).encode(
        x=alt.X("t:Q", scale=xs), y=alt.value(H), y2=alt.value(H - TICK_LEN)
    )
    yt = alt.Chart(pd.DataFrame({"t": y_ticks})).mark_rule(color="black", strokeWidth=8).encode(
        y=alt.Y("t:Q", scale=ys), x=alt.value(0), x2=alt.value(TICK_LEN)
    )
    return [pts, fits, xt, yt]


legend = alt.Legend(orient="none", legendX=901, legendY=76, title=None,
                    labelFont=FONT, labelFontSize=83, labelColor="black",
                    symbolType="circle", symbolSize=660, symbolStrokeWidth=4,
                    labelOffset=112, rowPadding=39, padding=0, labelLimit=0)

layers_a = panel([gebc_n5, gebc_n15, gebc_n50], fit_a_order, fit_a_value,
                 A_DOMAIN, a_ticks, "d", legend)
layers_b = panel([p2_n5, p2_n15, p2_n50], fit_b_order, fit_b_value,
                 B_DOMAIN, b_ticks, ".1f", None)

bounds_a = alt.Chart(pd.DataFrame({"a": [0]})).mark_rule(opacity=0).encode(
    x=alt.value(-290), x2=alt.value(-288), y=alt.value(-104), y2=alt.value(-100))

chart_a = alt.layer(
    *layers_a,
    text("Strand breaking order", W / 2, 1623, 125),
    text("GEBC", -108, 706, 125, style="italic", angle=270),
    text("A", -289, 41, 146, weight="bold", align="left"),
    bounds_a,
).properties(width=W, height=H)

chart_b = alt.layer(
    *layers_b,
    text("Strand breaking order", W / 2, 1623, 125),
    text("P", -184, 728, 125, style="italic", angle=270),
    text("2", -162, 667, 88, angle=270),
    text("B", -293, 42, 146, weight="bold", align="left"),
).properties(width=W, height=H)

chart = alt.hconcat(chart_a, chart_b, spacing=324, bounds="flush").configure_view(
    stroke="black", strokeWidth=8
).properties(padding=0, background="white")

chart.save("out.html", embed_options={"renderer": "svg", "actions": False})
